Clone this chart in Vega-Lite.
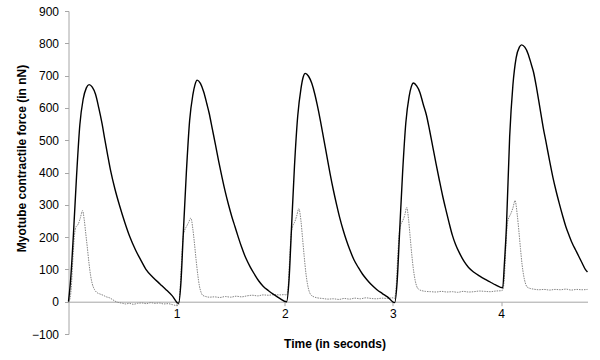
{
  "$schema": "https://vega.github.io/schema/vega-lite/v6.json",
  "width": 519,
  "height": 323,
  "autosize": {"type": "none"},
  "padding": {"left": 68.5, "top": 11, "right": 12.5, "bottom": 26},
  "background": "#ffffff",
  "config": {
    "view": {"stroke": null},
    "font": "Liberation Sans",
    "axis": {
      "grid": false,
      "domainColor": "#a6a6a6",
      "tickColor": "#a6a6a6",
      "tickSize": 4,
      "labelFontSize": 12,
      "labelColor": "#000000",
      "titleFontSize": 12,
      "titleFontWeight": "bold",
      "titleColor": "#000000"
    }
  },
  "datasets": {
    "solid": [
      {"t": 0, "v": 0}, {"t": 0.02, "v": 70}, {"t": 0.045, "v": 205}, {"t": 0.075, "v": 392}, {"t": 0.105, "v": 548},
      {"t": 0.135, "v": 626}, {"t": 0.165, "v": 662}, {"t": 0.19, "v": 672}, {"t": 0.22, "v": 664}, {"t": 0.25, "v": 642},
      {"t": 0.28, "v": 600}, {"t": 0.31, "v": 552}, {"t": 0.337, "v": 500}, {"t": 0.36, "v": 458}, {"t": 0.39, "v": 405},
      {"t": 0.43, "v": 348}, {"t": 0.47, "v": 300}, {"t": 0.52, "v": 246}, {"t": 0.568, "v": 200}, {"t": 0.62, "v": 160},
      {"t": 0.67, "v": 128}, {"t": 0.716, "v": 100}, {"t": 0.78, "v": 76}, {"t": 0.846, "v": 55}, {"t": 0.9, "v": 38},
      {"t": 0.96, "v": 18}, {"t": 1.018, "v": -5},
      {"t": 1.04, "v": 60}, {"t": 1.06, "v": 200}, {"t": 1.09, "v": 400}, {"t": 1.12, "v": 560}, {"t": 1.15, "v": 640},
      {"t": 1.17, "v": 672}, {"t": 1.19, "v": 686}, {"t": 1.22, "v": 676}, {"t": 1.25, "v": 650}, {"t": 1.28, "v": 612},
      {"t": 1.3, "v": 585}, {"t": 1.33, "v": 535}, {"t": 1.36, "v": 485}, {"t": 1.39, "v": 433}, {"t": 1.42, "v": 385},
      {"t": 1.45, "v": 340}, {"t": 1.48, "v": 300}, {"t": 1.51, "v": 264}, {"t": 1.54, "v": 232}, {"t": 1.57, "v": 200},
      {"t": 1.6, "v": 170}, {"t": 1.64, "v": 135}, {"t": 1.68, "v": 108}, {"t": 1.72, "v": 85}, {"t": 1.76, "v": 64},
      {"t": 1.8, "v": 48}, {"t": 1.85, "v": 34}, {"t": 1.9, "v": 22}, {"t": 1.95, "v": 11}, {"t": 2.017, "v": 0},
      {"t": 2.04, "v": 70}, {"t": 2.06, "v": 210}, {"t": 2.09, "v": 420}, {"t": 2.12, "v": 575}, {"t": 2.15, "v": 660},
      {"t": 2.17, "v": 695}, {"t": 2.19, "v": 707}, {"t": 2.22, "v": 698}, {"t": 2.25, "v": 676}, {"t": 2.28, "v": 640},
      {"t": 2.3, "v": 610}, {"t": 2.33, "v": 560}, {"t": 2.36, "v": 505}, {"t": 2.39, "v": 450}, {"t": 2.42, "v": 395},
      {"t": 2.45, "v": 345}, {"t": 2.48, "v": 300}, {"t": 2.51, "v": 258}, {"t": 2.54, "v": 222}, {"t": 2.57, "v": 190},
      {"t": 2.6, "v": 162}, {"t": 2.64, "v": 130}, {"t": 2.68, "v": 106}, {"t": 2.72, "v": 85}, {"t": 2.76, "v": 68},
      {"t": 2.8, "v": 53}, {"t": 2.85, "v": 38}, {"t": 2.9, "v": 26}, {"t": 2.95, "v": 15}, {"t": 3.016, "v": -3},
      {"t": 3.04, "v": 65}, {"t": 3.06, "v": 200}, {"t": 3.09, "v": 400}, {"t": 3.12, "v": 555}, {"t": 3.15, "v": 635},
      {"t": 3.17, "v": 665}, {"t": 3.19, "v": 677}, {"t": 3.22, "v": 668}, {"t": 3.25, "v": 648}, {"t": 3.28, "v": 612},
      {"t": 3.31, "v": 578}, {"t": 3.34, "v": 530}, {"t": 3.37, "v": 478}, {"t": 3.4, "v": 426}, {"t": 3.43, "v": 376},
      {"t": 3.46, "v": 328}, {"t": 3.49, "v": 285}, {"t": 3.52, "v": 244}, {"t": 3.55, "v": 206}, {"t": 3.58, "v": 177},
      {"t": 3.62, "v": 148}, {"t": 3.66, "v": 124}, {"t": 3.7, "v": 106}, {"t": 3.75, "v": 91}, {"t": 3.8, "v": 80},
      {"t": 3.85, "v": 70}, {"t": 3.9, "v": 61}, {"t": 3.95, "v": 52}, {"t": 4.016, "v": 43},
      {"t": 4.03, "v": 110}, {"t": 4.05, "v": 230}, {"t": 4.08, "v": 510}, {"t": 4.11, "v": 670}, {"t": 4.14, "v": 755},
      {"t": 4.17, "v": 788}, {"t": 4.19, "v": 795}, {"t": 4.22, "v": 788}, {"t": 4.25, "v": 768}, {"t": 4.28, "v": 735},
      {"t": 4.3, "v": 712}, {"t": 4.33, "v": 660}, {"t": 4.36, "v": 600}, {"t": 4.39, "v": 540}, {"t": 4.42, "v": 488},
      {"t": 4.45, "v": 435}, {"t": 4.48, "v": 385}, {"t": 4.51, "v": 342}, {"t": 4.54, "v": 303}, {"t": 4.57, "v": 266},
      {"t": 4.6, "v": 232}, {"t": 4.63, "v": 205}, {"t": 4.66, "v": 180}, {"t": 4.69, "v": 160}, {"t": 4.72, "v": 140},
      {"t": 4.75, "v": 120}, {"t": 4.78, "v": 100}, {"t": 4.8, "v": 92}
    ],
    "dotted": [
      {"t": 0, "v": 0}, {"t": 0.01, "v": 5}, {"t": 0.025, "v": 40}, {"t": 0.04, "v": 130}, {"t": 0.055, "v": 205},
      {"t": 0.07, "v": 232}, {"t": 0.09, "v": 240}, {"t": 0.11, "v": 260}, {"t": 0.13, "v": 282}, {"t": 0.145, "v": 255},
      {"t": 0.16, "v": 210}, {"t": 0.175, "v": 165}, {"t": 0.19, "v": 118}, {"t": 0.205, "v": 80}, {"t": 0.22, "v": 55},
      {"t": 0.24, "v": 38}, {"t": 0.26, "v": 29}, {"t": 0.29, "v": 24}, {"t": 0.32, "v": 20}, {"t": 0.35, "v": 15},
      {"t": 0.38, "v": 12}, {"t": 0.41, "v": 6}, {"t": 0.44, "v": 0}, {"t": 0.47, "v": -3}, {"t": 0.5, "v": -5},
      {"t": 0.53, "v": -7}, {"t": 0.56, "v": -5}, {"t": 0.6, "v": -8}, {"t": 0.64, "v": -5}, {"t": 0.68, "v": -4},
      {"t": 0.72, "v": -6}, {"t": 0.76, "v": -3}, {"t": 0.8, "v": -5}, {"t": 0.84, "v": -4}, {"t": 0.88, "v": -7},
      {"t": 0.92, "v": -6}, {"t": 0.96, "v": -9}, {"t": 1.0, "v": -12}, {"t": 1.018, "v": -10},
      {"t": 1.03, "v": 30}, {"t": 1.045, "v": 120}, {"t": 1.06, "v": 200}, {"t": 1.075, "v": 222}, {"t": 1.09, "v": 232},
      {"t": 1.11, "v": 245}, {"t": 1.132, "v": 259}, {"t": 1.15, "v": 225}, {"t": 1.165, "v": 180}, {"t": 1.18, "v": 130},
      {"t": 1.195, "v": 85}, {"t": 1.21, "v": 50}, {"t": 1.225, "v": 30}, {"t": 1.24, "v": 20}, {"t": 1.27, "v": 16},
      {"t": 1.3, "v": 14}, {"t": 1.35, "v": 15}, {"t": 1.4, "v": 13}, {"t": 1.45, "v": 16}, {"t": 1.5, "v": 14},
      {"t": 1.55, "v": 17}, {"t": 1.6, "v": 15}, {"t": 1.65, "v": 18}, {"t": 1.7, "v": 20}, {"t": 1.75, "v": 18},
      {"t": 1.8, "v": 21}, {"t": 1.85, "v": 20}, {"t": 1.9, "v": 22}, {"t": 1.95, "v": 21}, {"t": 2.0, "v": 22},
      {"t": 2.017, "v": 20},
      {"t": 2.03, "v": 40}, {"t": 2.045, "v": 130}, {"t": 2.06, "v": 210}, {"t": 2.075, "v": 235}, {"t": 2.09, "v": 245},
      {"t": 2.11, "v": 265}, {"t": 2.13, "v": 288}, {"t": 2.15, "v": 250}, {"t": 2.165, "v": 195}, {"t": 2.18, "v": 140},
      {"t": 2.195, "v": 90}, {"t": 2.21, "v": 55}, {"t": 2.225, "v": 33}, {"t": 2.24, "v": 22}, {"t": 2.27, "v": 15},
      {"t": 2.3, "v": 12}, {"t": 2.35, "v": 10}, {"t": 2.4, "v": 8}, {"t": 2.45, "v": 9}, {"t": 2.5, "v": 7},
      {"t": 2.55, "v": 10}, {"t": 2.6, "v": 8}, {"t": 2.65, "v": 11}, {"t": 2.7, "v": 9}, {"t": 2.75, "v": 12},
      {"t": 2.8, "v": 10}, {"t": 2.85, "v": 9}, {"t": 2.9, "v": 11}, {"t": 2.95, "v": 10}, {"t": 3.0, "v": 12},
      {"t": 3.016, "v": 10},
      {"t": 3.03, "v": 45}, {"t": 3.045, "v": 140}, {"t": 3.06, "v": 215}, {"t": 3.075, "v": 240}, {"t": 3.09, "v": 250},
      {"t": 3.11, "v": 268}, {"t": 3.128, "v": 292}, {"t": 3.145, "v": 255}, {"t": 3.16, "v": 200}, {"t": 3.175, "v": 145},
      {"t": 3.19, "v": 100}, {"t": 3.205, "v": 68}, {"t": 3.22, "v": 48}, {"t": 3.24, "v": 38}, {"t": 3.27, "v": 34},
      {"t": 3.3, "v": 32}, {"t": 3.35, "v": 31}, {"t": 3.4, "v": 30}, {"t": 3.45, "v": 32}, {"t": 3.5, "v": 30},
      {"t": 3.55, "v": 31}, {"t": 3.6, "v": 29}, {"t": 3.65, "v": 32}, {"t": 3.7, "v": 30}, {"t": 3.75, "v": 31},
      {"t": 3.8, "v": 33}, {"t": 3.85, "v": 32}, {"t": 3.9, "v": 31}, {"t": 3.95, "v": 33}, {"t": 4.0, "v": 34},
      {"t": 4.016, "v": 36},
      {"t": 4.03, "v": 70}, {"t": 4.045, "v": 170}, {"t": 4.06, "v": 245}, {"t": 4.075, "v": 262}, {"t": 4.09, "v": 272},
      {"t": 4.11, "v": 290}, {"t": 4.13, "v": 313}, {"t": 4.15, "v": 270}, {"t": 4.165, "v": 220}, {"t": 4.18, "v": 165},
      {"t": 4.195, "v": 115}, {"t": 4.21, "v": 80}, {"t": 4.225, "v": 58}, {"t": 4.24, "v": 46}, {"t": 4.27, "v": 41},
      {"t": 4.3, "v": 39}, {"t": 4.35, "v": 37}, {"t": 4.4, "v": 38}, {"t": 4.45, "v": 36}, {"t": 4.5, "v": 38},
      {"t": 4.55, "v": 37}, {"t": 4.6, "v": 39}, {"t": 4.65, "v": 36}, {"t": 4.7, "v": 38}, {"t": 4.75, "v": 37},
      {"t": 4.8, "v": 38}
    ]
  },
  "encoding": {
    "x": {
      "field": "t",
      "type": "quantitative",
      "scale": {"domain": [0, 4.8], "nice": false, "zero": false},
      "axis": {
        "values": [1, 2, 3, 4],
        "title": "Time (in seconds)",
        "offset": -32.3,
        "labelPadding": 3,
        "titleX": 266,
        "titleY": 42,
        "titleAlign": "center",
        "titleBaseline": "middle"
      }
    },
    "y": {
      "field": "v",
      "type": "quantitative",
      "scale": {"domain": [-100, 900], "nice": false, "zero": false},
      "axis": {
        "values": [-100, 0, 100, 200, 300, 400, 500, 600, 700, 800, 900],
        "title": "Myotube contractile force (in nN)",
        "labelPadding": 6,
        "titleAngle": -90,
        "titleX": -47.5,
        "titleY": 147,
        "titleAlign": "center",
        "titleBaseline": "middle"
      }
    }
  },
  "layer": [
    {
      "data": {"name": "dotted"},
      "mark": {"type": "line", "stroke": "#858585", "strokeWidth": 1, "strokeDash": [1.5, 1], "interpolate": "monotone"}
    },
    {
      "data": {"name": "solid"},
      "mark": {"type": "line", "stroke": "#000000", "strokeWidth": 1.4, "interpolate": "monotone"}
    }
  ]
}
